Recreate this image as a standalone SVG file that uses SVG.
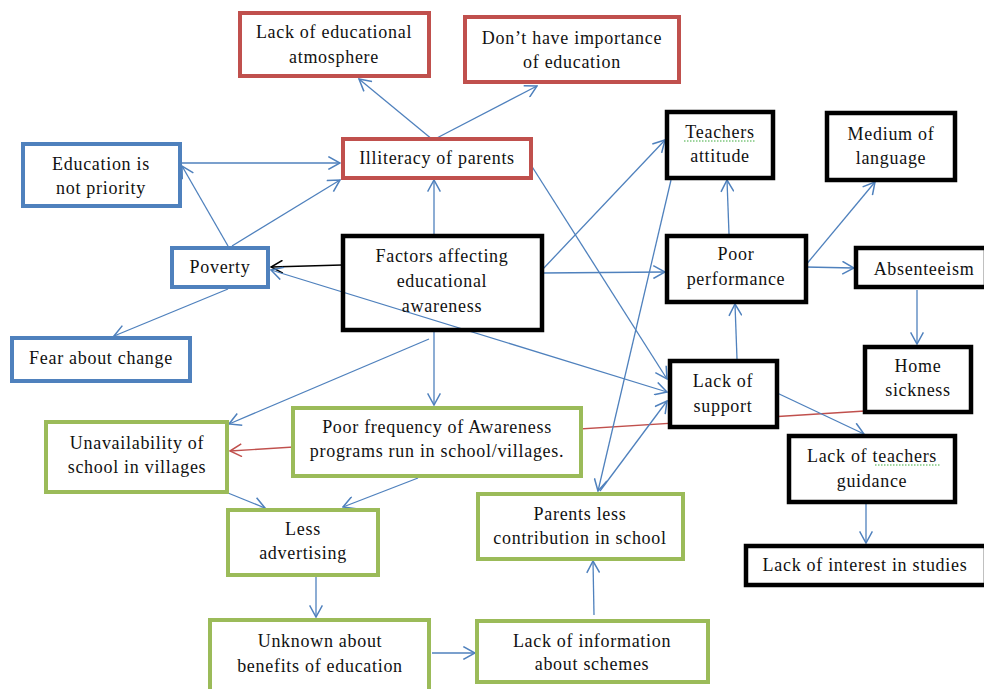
<svg xmlns="http://www.w3.org/2000/svg" width="984" height="689" viewBox="0 0 984 689">
<style>
  .box{fill:#fff;stroke-width:4}
  .red{stroke:#C0504D}
  .blue{stroke:#4F81BD}
  .green{stroke:#9BBB59}
  .black{stroke:#000;stroke-width:4.5}
  text{font-family:"Liberation Serif","Times New Roman",serif;font-size:18px;letter-spacing:0.7px;fill:#111;text-anchor:middle}
  .c{fill:none;stroke:#4F81BD;stroke-width:1.3}
  .spell{fill:none;stroke:#3DAA3D;stroke-width:1;stroke-dasharray:1.5 1.5}
</style>
<defs>
  <marker id="ab" markerUnits="userSpaceOnUse" markerWidth="14" markerHeight="14" viewBox="0 0 12 12" refX="11" refY="6" orient="auto-start-reverse">
    <path d="M1,0.5 L11,6 L1,11.5" fill="none" stroke="#4F81BD" stroke-width="1.3"/>
  </marker>
  <marker id="ak" markerUnits="userSpaceOnUse" markerWidth="14" markerHeight="14" viewBox="0 0 12 12" refX="11" refY="6" orient="auto">
    <path d="M1,0.5 L11,6 L1,11.5" fill="none" stroke="#000" stroke-width="1.3"/>
  </marker>
  <marker id="ar" markerUnits="userSpaceOnUse" markerWidth="14" markerHeight="14" viewBox="0 0 12 12" refX="11" refY="6" orient="auto">
    <path d="M1,0.5 L11,6 L1,11.5" fill="none" stroke="#C0504D" stroke-width="1.3"/>
  </marker>
</defs>

<g id="connectors">
  <line class="c" x1="433" y1="140" x2="359" y2="79" marker-end="url(#ab)"/>
  <line class="c" x1="433" y1="140" x2="537" y2="86" marker-end="url(#ab)"/>
  <line class="c" x1="182" y1="163" x2="340" y2="163" marker-end="url(#ab)"/>
  <line class="c" x1="228" y1="246" x2="182" y2="166" marker-end="url(#ab)"/>
  <line class="c" x1="232" y1="246" x2="340" y2="180" marker-end="url(#ab)"/>
  <line class="c" x1="228" y1="289" x2="114" y2="336" marker-end="url(#ab)"/>
  <line x1="342" y1="265" x2="271" y2="267" fill="none" stroke="#000" stroke-width="1.3" marker-end="url(#ak)"/>
  <line class="c" x1="271" y1="270" x2="667" y2="392" marker-start="url(#ab)" marker-end="url(#ab)"/>
  <line class="c" x1="434" y1="234" x2="434" y2="180" marker-end="url(#ab)"/>
  <line class="c" x1="531" y1="165" x2="667" y2="379" marker-end="url(#ab)"/>
  <line class="c" x1="542" y1="270" x2="665" y2="140" marker-end="url(#ab)"/>
  <line class="c" x1="542" y1="273" x2="665" y2="272" marker-end="url(#ab)"/>
  <line class="c" x1="729" y1="234" x2="727" y2="180" marker-end="url(#ab)"/>
  <line class="c" x1="805" y1="266" x2="875" y2="182" marker-end="url(#ab)"/>
  <line class="c" x1="805" y1="267" x2="854" y2="268" marker-end="url(#ab)"/>
  <line class="c" x1="917" y1="290" x2="917" y2="344" marker-end="url(#ab)"/>
  <line class="c" x1="737" y1="359" x2="735" y2="304" marker-end="url(#ab)"/>
  <line x1="865" y1="411" x2="230" y2="451" fill="none" stroke="#C0504D" stroke-width="1.3" marker-end="url(#ar)"/>
  <line class="c" x1="775" y1="392" x2="864" y2="434" marker-end="url(#ab)"/>
  <line class="c" x1="866" y1="504" x2="866" y2="543" marker-end="url(#ab)"/>
  <line class="c" x1="671" y1="180" x2="598" y2="491" marker-end="url(#ab)"/>
  <line class="c" x1="600" y1="491" x2="667" y2="401" marker-end="url(#ab)"/>
  <line class="c" x1="429" y1="339" x2="229" y2="424" marker-end="url(#ab)"/>
  <line class="c" x1="434" y1="331" x2="434" y2="405" marker-end="url(#ab)"/>
  <line class="c" x1="228" y1="493" x2="265" y2="508" marker-end="url(#ab)"/>
  <line class="c" x1="418" y1="478" x2="343" y2="507" marker-end="url(#ab)"/>
  <line class="c" x1="316" y1="577" x2="316" y2="617" marker-end="url(#ab)"/>
  <line class="c" x1="432" y1="653" x2="475" y2="653" marker-end="url(#ab)"/>
  <line class="c" x1="594" y1="615" x2="593" y2="561" marker-end="url(#ab)"/>
</g>

<g id="lack-edu-atmosphere">
  <rect class="box red" x="240" y="13" width="189" height="63"/>
  <text x="334" y="38">Lack of educational</text>
  <text x="334" y="63">atmosphere</text>
</g>
<g id="dont-have-importance">
  <rect class="box red" x="465" y="17" width="214" height="65"/>
  <text x="572" y="44">Don’t have importance</text>
  <text x="572" y="68">of education</text>
</g>
<g id="illiteracy">
  <rect class="box red" x="343" y="139" width="188" height="39"/>
  <text x="437" y="164">Illiteracy of parents</text>
</g>
<g id="education-not-priority">
  <rect class="box blue" x="23" y="144" width="157" height="62"/>
  <text x="101" y="170">Education is</text>
  <text x="101" y="194">not priority</text>
</g>
<g id="poverty">
  <rect class="box blue" x="172" y="248" width="96" height="39"/>
  <text x="220" y="273">Poverty</text>
</g>
<g id="fear-about-change">
  <rect class="box blue" x="12" y="338" width="178" height="43"/>
  <text x="101" y="364">Fear about change</text>
</g>
<g id="factors">
  <rect x="343" y="236" width="199" height="94" fill="none" stroke="#000" stroke-width="4.5"/>
  <text x="442" y="262">Factors affecting</text>
  <text x="442" y="287">educational</text>
  <text x="442" y="312">awareness</text>
</g>
<g id="teachers-attitude">
  <rect class="box black" x="667" y="112" width="106" height="66"/>
  <text x="720" y="138">Teachers</text>
  <path class="spell" d="M684,141 H756"/>
  <text x="720" y="162">attitude</text>
</g>
<g id="medium-of-language">
  <rect class="box black" x="827" y="113" width="128" height="67"/>
  <text x="891" y="140">Medium of</text>
  <text x="891" y="164">language</text>
</g>
<g id="poor-performance">
  <rect class="box black" x="667" y="236" width="139" height="66"/>
  <text x="736" y="260">Poor</text>
  <text x="736" y="285">performance</text>
</g>
<g id="absenteeism">
  <rect class="box black" x="856" y="248" width="130" height="39"/>
  <text x="924" y="275">Absenteeism</text>
</g>
<g id="home-sickness">
  <rect class="box black" x="865" y="347" width="106" height="65"/>
  <text x="918" y="372">Home</text>
  <text x="918" y="396">sickness</text>
</g>
<g id="lack-of-support">
  <rect class="box black" x="670" y="361" width="107" height="66"/>
  <text x="723" y="387">Lack of</text>
  <text x="723" y="412">support</text>
</g>
<g id="lack-teachers-guidance">
  <rect class="box black" x="789" y="436" width="166" height="66"/>
  <text x="872" y="462">Lack of teachers</text>
  <path class="spell" d="M875,465 H941"/>
  <text x="872" y="487">guidance</text>
</g>
<g id="lack-interest-studies">
  <rect class="box black" x="746" y="546" width="240" height="39"/>
  <text x="865" y="571">Lack of interest in studies</text>
</g>
<g id="unavailability">
  <rect class="box green" x="46" y="422" width="181" height="70"/>
  <text x="137" y="449">Unavailability of</text>
  <text x="137" y="473">school in villages</text>
</g>
<g id="poor-frequency">
  <rect class="box green" x="293" y="408" width="288" height="68"/>
  <text x="437" y="433">Poor frequency of Awareness</text>
  <text x="437" y="457">programs run in school/villages.</text>
</g>
<g id="less-advertising">
  <rect class="box green" x="228" y="510" width="150" height="65"/>
  <text x="303" y="535">Less</text>
  <text x="303" y="559">advertising</text>
</g>
<g id="parents-less-contribution">
  <rect class="box green" x="478" y="494" width="205" height="65"/>
  <text x="580" y="520">Parents less</text>
  <text x="580" y="544">contribution in school</text>
</g>
<g id="unknown-benefits">
  <rect class="box green" x="210" y="620" width="219" height="72"/>
  <text x="320" y="647">Unknown about</text>
  <text x="320" y="672">benefits of education</text>
</g>
<g id="lack-information-schemes">
  <rect class="box green" x="477" y="621" width="231" height="61"/>
  <text x="592" y="647">Lack of information</text>
  <text x="592" y="670">about schemes</text>
</g>
</svg>
